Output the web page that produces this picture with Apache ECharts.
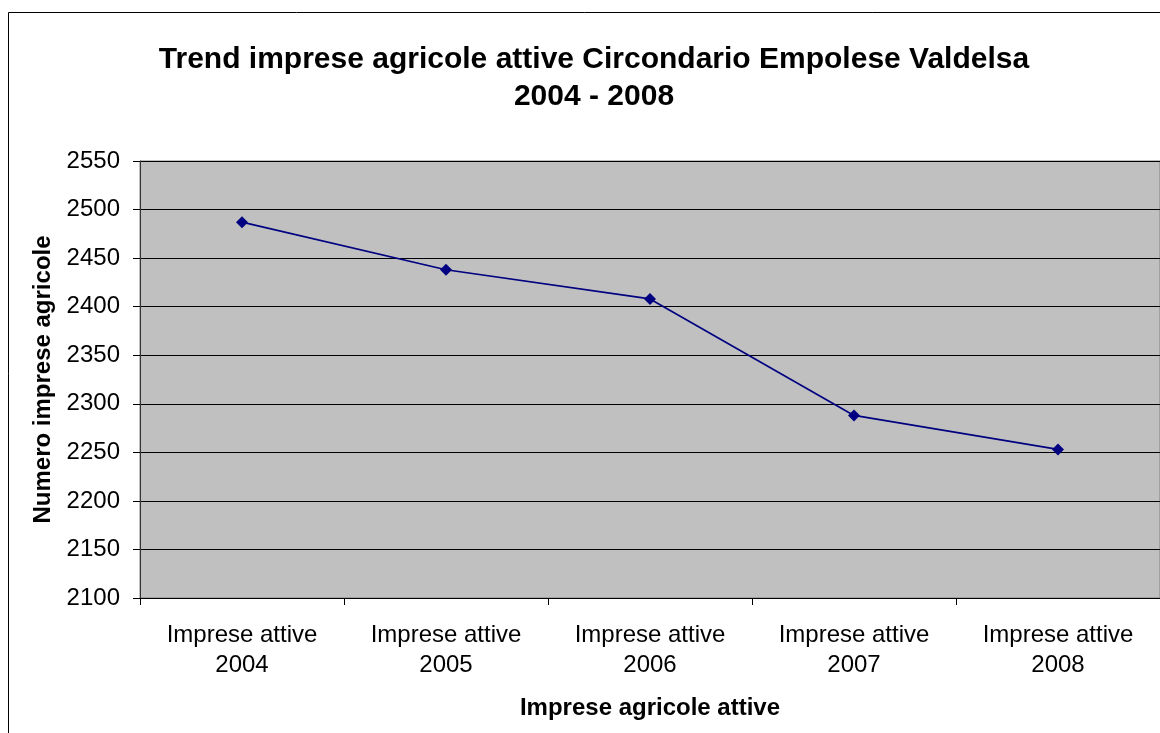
<!DOCTYPE html>
<html>
<head>
<meta charset="utf-8">
<title>Trend imprese agricole attive</title>
<script src="https://cdn.jsdelivr.net/npm/echarts@6/dist/echarts.min.js"></script>
<style>
    html, body { margin: 0; padding: 0; background: #fff; }
    #main { width: 1160px; height: 733px; }
</style>
</head>
<body>
<div id="main"></div>
<script type="text/javascript">
    // dati
    var categorie = ['Imprese attive\n2004', 'Imprese attive\n2005', 'Imprese attive\n2006',
        'Imprese attive\n2007', 'Imprese attive\n2008'];
    var imprese = [2487, 2438, 2408, 2288, 2253];
    var yMin = 2100;
    var yMax = 2550;
    var yPasso = 50;

    var font = "'Liberation Sans', Arial, sans-serif";
    var myChart = echarts.init(document.getElementById('main'));

    var option = {
        backgroundColor: '#ffffff',
        animation: false,
        title: {
            text: 'Trend imprese agricole attive Circondario Empolese Valdelsa\n2004 - 2008',
            left: 589,
            top: 36,
            textAlign: 'center',
            textStyle: {
                fontFamily: font,
                fontSize: 30,
                fontWeight: 'bold',
                color: '#000',
                lineHeight: 37
            }
        },
        // cornice esterna del grafico
        graphic: [{
            type: 'rect',
            shape: { x: 8.5, y: 12.5, width: 1300, height: 900 },
            style: { fill: 'none', stroke: '#000', lineWidth: 1 },
            silent: true,
            z: -1
        }],
        grid: {
            left: 140,
            top: 161,
            width: 1021,
            height: 437,
            show: true,
            backgroundColor: '#C0C0C0',
            borderColor: '#808080',
            borderWidth: 1
        },
        xAxis: {
            type: 'category',
            data: categorie,
            boundaryGap: true,
            name: 'Imprese agricole attive',
            nameLocation: 'middle',
            nameGap: 98,
            nameTextStyle: {
                fontFamily: font,
                fontSize: 24,
                fontWeight: 'bold',
                color: '#000'
            },
            axisLine: { lineStyle: { color: '#000', width: 1 } },
            axisTick: { show: true, length: 7, lineStyle: { color: '#000' } },
            axisLabel: {
                fontFamily: font,
                fontSize: 24,
                lineHeight: 30,
                color: '#000',
                margin: 22,
                interval: 0
            },
            splitLine: { show: false }
        },
        yAxis: {
            type: 'value',
            min: yMin,
            max: yMax,
            interval: yPasso,
            name: 'Numero imprese agricole',
            nameLocation: 'middle',
            nameGap: 80,
            nameTextStyle: {
                fontFamily: font,
                fontSize: 24,
                fontWeight: 'bold',
                color: '#000'
            },
            axisLine: { show: true, lineStyle: { color: '#333', width: 1 } },
            axisTick: { show: true, length: 7, lineStyle: { color: '#000' } },
            axisLabel: {
                fontFamily: font,
                fontSize: 24,
                color: '#000',
                margin: 20,
                formatter: function (v) { return String(v); }
            },
            splitLine: { show: true, lineStyle: { color: '#000', width: 1 } }
        },
        series: [{
            name: 'Imprese attive',
            type: 'line',
            data: imprese,
            symbol: 'diamond',
            symbolSize: 12,
            itemStyle: { color: '#000080' },
            lineStyle: { color: '#000080', width: 1.7 }
        }]
    };
    myChart.setOption(option);
</script>
</body>
</html>
